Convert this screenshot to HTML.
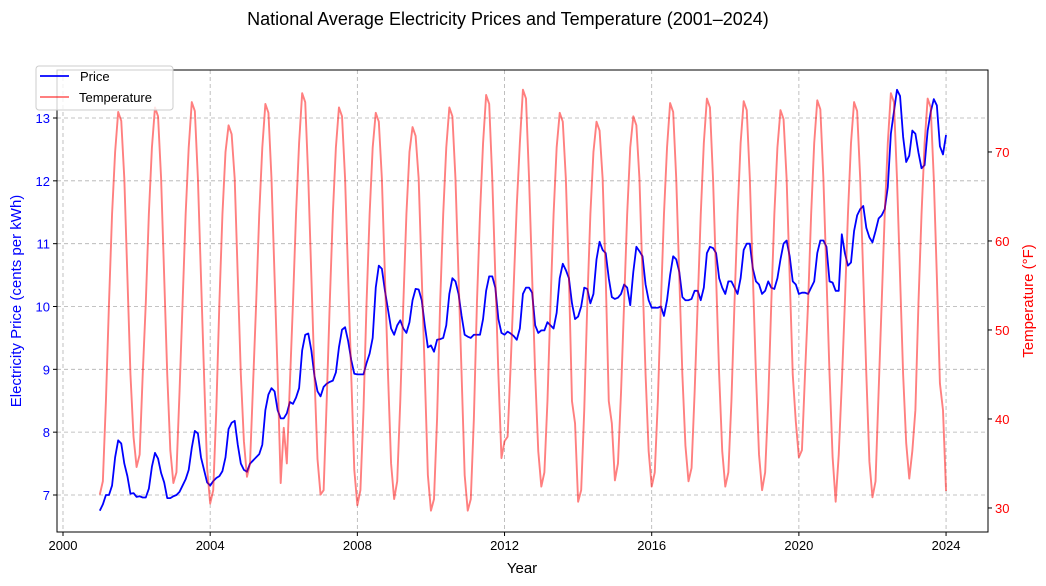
<!DOCTYPE html>
<html><head><meta charset="utf-8"><style>
body{margin:0;background:#fff;}
svg{display:block;font-family:"Liberation Sans","DejaVu Sans",sans-serif;}
</style></head><body>
<svg id="chart" width="1046" height="586"></svg>
<script>
const years=[2001,2002,2003,2004,2005,2006,2007,2008,2009,2010,2011,2012,2013,2014,2015,2016,2017,2018,2019,2020,2021,2022,2023];
const priceByYear=[
[6.75,6.85,7.0,7.0,7.15,7.6,7.87,7.82,7.5,7.3,7.02,7.03],
[6.97,6.98,6.96,6.96,7.1,7.45,7.67,7.58,7.35,7.2,6.95,6.95],
[6.98,7.0,7.05,7.15,7.25,7.4,7.75,8.02,7.98,7.6,7.4,7.2],
[7.15,7.22,7.27,7.3,7.38,7.6,8.05,8.15,8.18,7.8,7.5,7.4],
[7.37,7.5,7.55,7.6,7.65,7.8,8.35,8.6,8.7,8.65,8.35,8.22],
[8.22,8.3,8.48,8.45,8.55,8.7,9.3,9.55,9.57,9.3,8.9,8.65],
[8.57,8.72,8.77,8.8,8.82,8.95,9.35,9.63,9.67,9.45,9.15,8.93],
[8.92,8.92,8.92,9.1,9.25,9.5,10.3,10.65,10.6,10.25,9.95,9.65],
[9.55,9.7,9.78,9.65,9.58,9.75,10.1,10.28,10.27,10.1,9.7,9.35],
[9.38,9.28,9.47,9.48,9.5,9.7,10.2,10.45,10.4,10.2,9.85,9.55],
[9.52,9.5,9.55,9.55,9.55,9.8,10.25,10.48,10.48,10.3,9.8,9.58],
[9.55,9.6,9.57,9.53,9.47,9.65,10.2,10.3,10.3,10.22,9.7,9.58],
[9.62,9.62,9.75,9.7,9.65,9.9,10.45,10.68,10.58,10.45,10.05,9.8],
[9.84,10.0,10.3,10.28,10.05,10.2,10.75,11.03,10.9,10.85,10.45,10.15],
[10.12,10.14,10.2,10.35,10.3,10.02,10.55,10.95,10.88,10.8,10.35,10.1],
[9.98,9.98,9.98,10.0,9.85,10.1,10.5,10.8,10.75,10.55,10.15,10.1],
[10.1,10.12,10.25,10.25,10.1,10.3,10.85,10.95,10.93,10.85,10.45,10.3],
[10.2,10.4,10.4,10.3,10.2,10.45,10.9,11.0,11.0,10.6,10.4,10.35],
[10.2,10.25,10.4,10.3,10.28,10.45,10.75,11.0,11.05,10.8,10.4,10.35],
[10.2,10.22,10.22,10.2,10.3,10.4,10.85,11.05,11.05,10.95,10.4,10.38],
[10.25,10.25,11.15,10.85,10.65,10.7,11.2,11.45,11.55,11.6,11.25,11.1],
[11.02,11.2,11.4,11.45,11.55,11.9,12.75,13.1,13.45,13.35,12.7,12.3],
[12.4,12.8,12.75,12.45,12.2,12.25,12.8,13.1,13.3,13.2,12.55,12.42]
];
const priceLast=12.73;
const tempByYear=[
[31.5,33,42,53,63,70,74.5,73.5,67,56,45,38],
[34.6,36,45,53,63,70.5,75,74,67,56,45,36.5],
[32.8,34,43,53,63,70.5,75.6,74.6,67,56,45,34.5],
[30.5,32,41,53,63,70,73,72,67,56,45,37.5],
[33.5,35,44,53,63,70.5,75.4,74.4,67,56,45,32.8],
[39,35,44,53,63,71,76.6,75.6,67,56,45,35.5],
[31.5,32,42,53,63,70.5,75,74,67,56,45,34.3],
[30.3,32,41,53,63,70.5,74.4,73.4,67,56,45,35],
[31,33,42,53,63,70,72.8,71.8,67,56,45,33.7],
[29.7,31,40,53,63,70.5,75,74,67,56,45,33.7],
[29.7,31,40,53,63,71,76.4,75.4,67,56,45,35.6],
[37.5,38,46,55,64,71,77,76,67,56,45,36.4],
[32.4,34,42,53,63,70.5,74.4,73.4,67,56,42,39.5],
[30.7,32,41,53,63,70,73.4,72.4,67,56,42,39.5],
[33.1,35,43,53,63,70.5,74,73,67,56,45,36.4],
[32.4,34,42,53,63,70.5,75.5,74.5,67,56,45,37],
[33,34.5,43,53,63,71,76,75,67,56,45,36.4],
[32.4,34,42,53,63,71,75.7,74.7,67,56,45,36],
[32,34,42,53,63,70.5,74.7,73.7,67,56,45,39.7],
[35.7,36.5,45,53,63,71,75.8,74.8,67,56,45,35.7],
[30.7,36,44,53,63,71,75.6,74.6,67,56,45,35.2],
[31.2,33,43,53,63,71,76.6,75.6,67,56,45,37.3],
[33.3,36.4,41,53,63,71,76,75,67,56,44,41]
];
const tempLast=31.9;
const xTicks=[2000,2004,2008,2012,2016,2020,2024];
const yLeftTicks=[7,8,9,10,11,12,13];
const yRightTicks=[30,40,50,60,70];

const L=57,R=988,T=70,B=532;
const xMin=1999.837,xMax=2025.14,yLMin=6.411,yLMax=13.764,yRMin=27.3,yRMax=79.21;
const X=v=>L+(v-xMin)/(xMax-xMin)*(R-L);
const YL=v=>B-(v-yLMin)/(yLMax-yLMin)*(B-T);
const YR=v=>B-(v-yRMin)/(yRMax-yRMin)*(B-T);
const NS="http://www.w3.org/2000/svg";
const svg=document.getElementById('chart');
function el(tag,attrs,parent){const e=document.createElementNS(NS,tag);for(const k in attrs)e.setAttribute(k,attrs[k]);(parent||svg).appendChild(e);return e;}
function txt(s,attrs){const t=el('text',attrs);t.textContent=s;return t;}

xTicks.forEach(v=>{const g=el('line',{x1:X(v),x2:X(v),y1:T,y2:B,stroke:'#b0b0b0','stroke-width':0.8,'stroke-dasharray':'4,3'});

});
yLeftTicks.forEach(v=>{const g=el('line',{x1:L,x2:R,y1:YL(v),y2:YL(v),stroke:'#b0b0b0','stroke-width':0.8,'stroke-dasharray':'4,3'});

});

const pPts=[],tPts=[];
years.forEach((y,i)=>{for(let m=0;m<12;m++){const xv=y+m/12;pPts.push(X(xv)+','+YL(priceByYear[i][m]));tPts.push(X(xv)+','+YR(tempByYear[i][m]));}});
pPts.push(X(2024)+','+YL(priceLast));tPts.push(X(2024)+','+YR(tempLast));
const pl=el('polyline',{points:pPts.join(' '),fill:'none',stroke:'#0000ff','stroke-width':1.8,'stroke-linejoin':'round'});


const tl=el('polyline',{points:tPts.join(' '),fill:'none',stroke:'#ff0000','stroke-opacity':0.5,'stroke-width':1.9,'stroke-linejoin':'round'});



const fr=el('rect',{x:L,y:T,width:R-L,height:B-T,fill:'none',stroke:'#000','stroke-width':1});



xTicks.forEach(v=>{el('line',{x1:X(v),x2:X(v),y1:B,y2:B+4,stroke:'#000'});
const t=txt(String(v),{x:X(v),y:B+18,'text-anchor':'middle','font-size':13,fill:'#000'});

});
yLeftTicks.forEach(v=>{el('line',{x1:L-4,x2:L,y1:YL(v),y2:YL(v),stroke:'#000'});
const t=txt(String(v),{x:L-7,y:YL(v)+5,'text-anchor':'end','font-size':13,fill:'#0000ff'});

});
yRightTicks.forEach(v=>{el('line',{x1:R,x2:R+4,y1:YR(v),y2:YR(v),stroke:'#000'});
const t=txt(String(v),{x:R+7,y:YR(v)+5,'text-anchor':'start','font-size':13,fill:'#ff0000'});

});
</script>
<svg width="1046" height="586" style="position:absolute;left:0;top:0">
<text x="508" y="25" text-anchor="middle" font-size="18" fill="#000" font-family="Liberation Sans, DejaVu Sans, sans-serif">National Average Electricity Prices and Temperature (2001–2024)</text>
<text x="522" y="573" text-anchor="middle" font-size="15" fill="#000" font-family="Liberation Sans, DejaVu Sans, sans-serif">Year</text>
<text transform="translate(21,301) rotate(-90)" text-anchor="middle" font-size="15" fill="#0000ff" font-family="Liberation Sans, DejaVu Sans, sans-serif">Electricity Price (cents per kWh)</text>
<text transform="translate(1033,301) rotate(-90)" text-anchor="middle" font-size="15" fill="#ff0000" font-family="Liberation Sans, DejaVu Sans, sans-serif">Temperature (°F)</text>
<g>
<rect x="36" y="66" width="137" height="44" rx="3" fill="#fff" fill-opacity="0.8" stroke="#ccc" stroke-width="1"/>
<line x1="40" x2="69" y1="76" y2="76" stroke="#0000ff" stroke-width="1.8"/>
<text x="80" y="81" font-size="13" fill="#000" font-family="Liberation Sans, DejaVu Sans, sans-serif">Price</text>
<line x1="40" x2="69" y1="97" y2="97" stroke="#ff0000" stroke-opacity="0.5" stroke-width="1.9"/>
<text x="79" y="102" font-size="13" fill="#000" font-family="Liberation Sans, DejaVu Sans, sans-serif">Temperature</text>
</g>
</svg>
</body></html>
